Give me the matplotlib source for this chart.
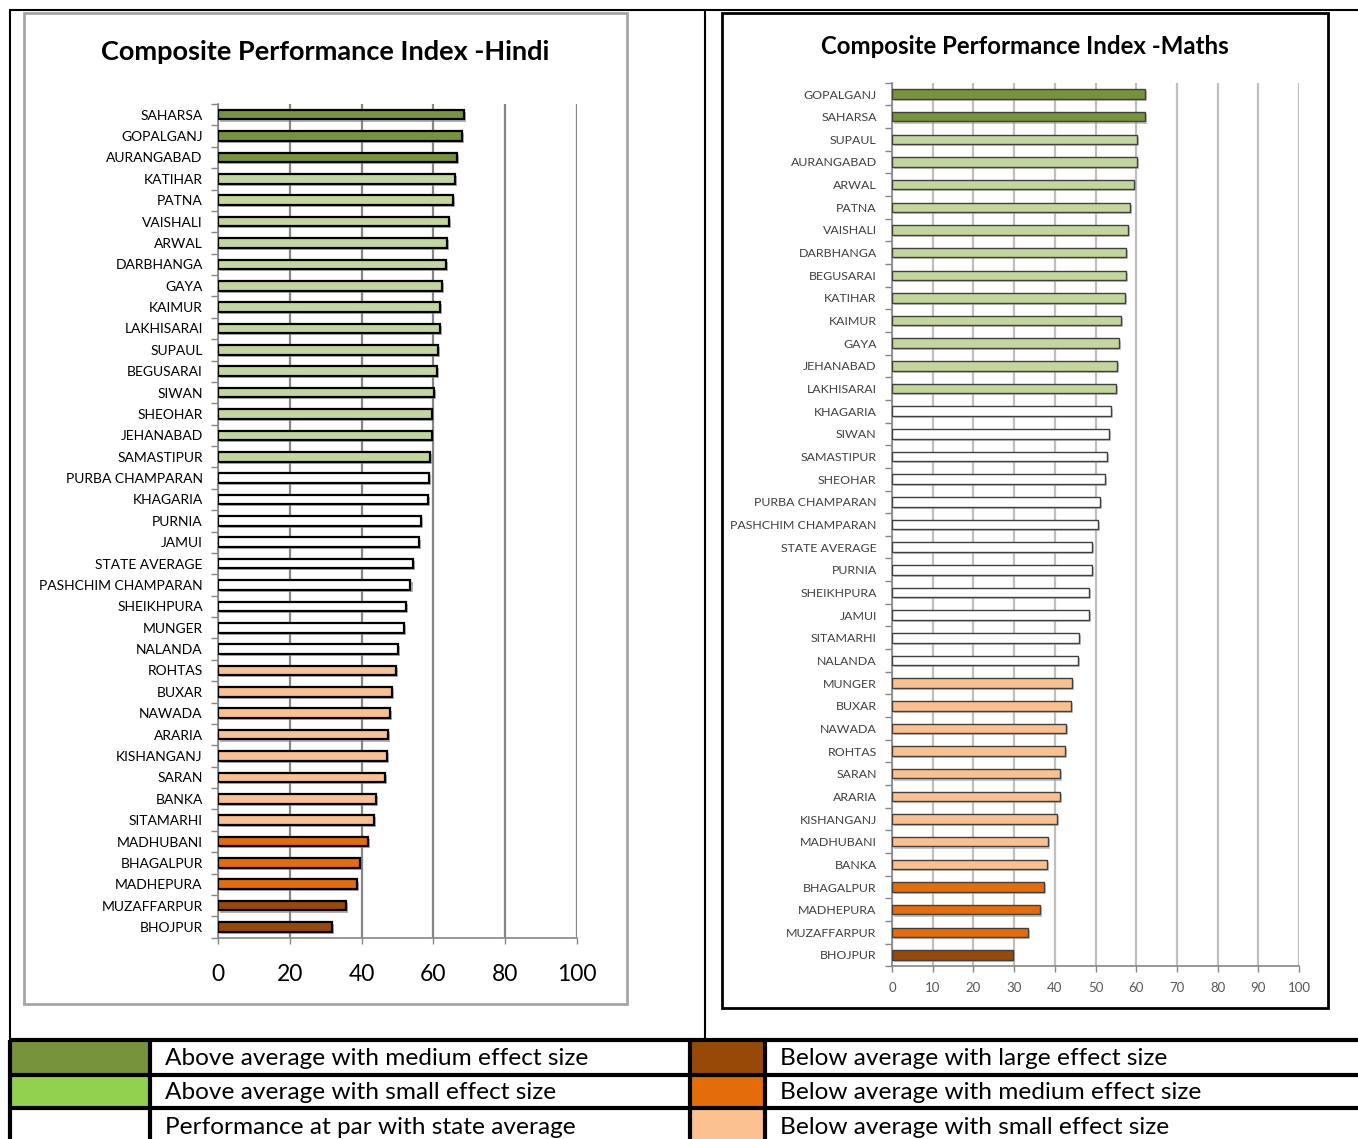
import matplotlib
matplotlib.use("Agg")
import matplotlib.pyplot as plt
import matplotlib.patheffects as pe
from matplotlib.lines import Line2D
from matplotlib.patches import Rectangle
from matplotlib.ticker import FixedLocator, NullFormatter

# ---------------- data ----------------
hindi_districts = ["SAHARSA", "GOPALGANJ", "AURANGABAD", "KATIHAR", "PATNA", "VAISHALI", "ARWAL",
                   "DARBHANGA", "GAYA", "KAIMUR", "LAKHISARAI", "SUPAUL", "BEGUSARAI", "SIWAN",
                   "SHEOHAR", "JEHANABAD", "SAMASTIPUR", "PURBA CHAMPARAN", "KHAGARIA", "PURNIA",
                   "JAMUI", "STATE AVERAGE", "PASHCHIM CHAMPARAN", "SHEIKHPURA", "MUNGER", "NALANDA",
                   "ROHTAS", "BUXAR", "NAWADA", "ARARIA", "KISHANGANJ", "SARAN", "BANKA", "SITAMARHI",
                   "MADHUBANI", "BHAGALPUR", "MADHEPURA", "MUZAFFARPUR", "BHOJPUR"]
hindi_values = [68.4, 67.9, 66.6, 66.1, 65.5, 64.3, 63.9, 63.6, 62.5, 61.9, 61.7, 61.2, 60.9, 60.2,
                59.6, 59.5, 59.1, 58.7, 58.4, 56.5, 55.9, 54.4, 53.6, 52.4, 51.8, 50.2, 49.5, 48.5,
                47.8, 47.4, 47.0, 46.6, 44.1, 43.5, 41.8, 39.5, 38.7, 35.6, 31.7]
hindi_groups = ["AM"] * 3 + ["AS"] * 14 + ["P"] * 9 + ["BS"] * 8 + ["BM"] * 3 + ["BL"] * 2

maths_districts = ["GOPALGANJ", "SAHARSA", "SUPAUL", "AURANGABAD", "ARWAL", "PATNA", "VAISHALI",
                   "DARBHANGA", "BEGUSARAI", "KATIHAR", "KAIMUR", "GAYA", "JEHANABAD", "LAKHISARAI",
                   "KHAGARIA", "SIWAN", "SAMASTIPUR", "SHEOHAR", "PURBA CHAMPARAN",
                   "PASHCHIM CHAMPARAN", "STATE AVERAGE", "PURNIA", "SHEIKHPURA", "JAMUI",
                   "SITAMARHI", "NALANDA", "MUNGER", "BUXAR", "NAWADA", "ROHTAS", "SARAN", "ARARIA",
                   "KISHANGANJ", "MADHUBANI", "BANKA", "BHAGALPUR", "MADHEPURA", "MUZAFFARPUR",
                   "BHOJPUR"]
maths_values = [62.2, 62.2, 60.2, 60.2, 59.4, 58.5, 58.0, 57.4, 57.4, 57.2, 56.3, 55.8, 55.2, 55.0,
                53.7, 53.2, 52.9, 52.3, 51.2, 50.7, 49.1, 49.1, 48.5, 48.4, 46.0, 45.8, 44.3, 44.0,
                42.8, 42.5, 41.3, 41.3, 40.6, 38.3, 38.1, 37.4, 36.4, 33.5, 29.8]
maths_groups = ["AM"] * 2 + ["AS"] * 12 + ["P"] * 12 + ["BS"] * 9 + ["BM"] * 3 + ["BL"] * 1

group_bar_colors = {"AM": "#77933C", "AS": "#C3D69B", "P": "#FFFFFF",
                    "BS": "#FAC090", "BM": "#E46C0A", "BL": "#984807"}

legend_left_labels = ["Above average with medium effect size",
                      "Above average with small effect size",
                      "Performance at par with state average"]
legend_left_colors = ["#77933C", "#92D050", "#FFFFFF"]
legend_right_labels = ["Below average with large effect size",
                       "Below average with medium effect size",
                       "Below average with small effect size"]
legend_right_colors = ["#984807", "#E46C0A", "#FAC090"]

x_ticks_hindi = [0, 20, 40, 60, 80, 100]
x_ticks_maths = [0, 10, 20, 30, 40, 50, 60, 70, 80, 90, 100]

# ---------------- figure ----------------
W, H = 1358, 1139
fig = plt.figure(figsize=(W / 100, H / 100), dpi=100)
FONT = ["Lato", "DejaVu Sans"]


def fx(px):
    return px / W


def fy(py):
    return 1 - py / H


def fig_line(x0, y0, x1, y1, color="black", lw=2.0):
    fig.add_artist(Line2D([fx(x0), fx(x1)], [fy(y0), fy(y1)], transform=fig.transFigure,
                          color=color, lw=lw, solid_capstyle="butt"))


def fig_rect(x0, y0, x1, y1, fc="none", ec="none", lw=0.0, zorder=0):
    fig.add_artist(Rectangle((fx(x0), fy(y1)), fx(x1) - fx(x0), fy(y0) - fy(y1),
                             transform=fig.transFigure, facecolor=fc, edgecolor=ec, lw=lw,
                             zorder=zorder))


# outer page frame
fig_line(9, 10, W, 10, lw=1.5)
fig_line(10, 10, 10, H, lw=1.5)
fig_line(705, 10, 705, 1040, lw=1.5)

# panel boxes
fig_rect(24, 13, 627, 1004, ec="#A6A6A6", lw=2.0)
fig_rect(722, 13, 1328, 1008, ec="#000000", lw=2.0)

# titles
fig.text(fx(325), fy(52), "Composite Performance Index -Hindi", ha="center", va="center",
         fontsize=19.5, fontweight="bold", family=FONT)
fig.text(fx(1025), fy(46), "Composite Performance Index -Maths", ha="center", va="center",
         fontsize=17.3, fontweight="bold", family=FONT)


def draw_chart(ax, districts, values, groups, xticks, edge, edge_lw, grid_color, grid_lw,
               ylab_size, ylab_color, xlab_size, xlab_color, xpad, shadow_color, bar_h):
    n = len(districts)
    pos = list(range(n))
    colors = [group_bar_colors[g] for g in groups]
    bars = ax.barh(pos, values, height=bar_h, color=colors, edgecolor=edge, linewidth=edge_lw,
                   zorder=3)
    for b in bars:
        b.set_path_effects([pe.SimplePatchShadow(offset=(1.5, -1.5), shadow_rgbFace=shadow_color,
                                                 alpha=0.6), pe.Normal()])
    ax.set_ylim(n - 0.5, -0.5)
    ax.set_xlim(0, 100)
    ax.set_yticks(pos)
    ax.set_yticklabels(districts, fontsize=ylab_size, color=ylab_color, family=FONT)
    ax.yaxis.set_minor_locator(FixedLocator([i - 0.5 for i in range(n + 1)]))
    ax.yaxis.set_minor_formatter(NullFormatter())
    ax.tick_params(axis="y", which="major", length=0, pad=11)
    ax.tick_params(axis="y", which="minor", length=5, width=1.0, color="#868686")
    ax.set_xticks(xticks)
    ax.set_xticklabels([str(t) for t in xticks], fontsize=xlab_size, color=xlab_color, family=FONT)
    ax.tick_params(axis="x", which="major", length=4, width=1.0, color="#868686", pad=xpad)
    ax.grid(axis="x", color=grid_color, lw=grid_lw, zorder=0)
    ax.set_axisbelow(True)
    for s in ["top", "right"]:
        ax.spines[s].set_visible(False)
    ax.spines["left"].set_color("#868686")
    ax.spines["left"].set_linewidth(1.2)
    ax.spines["bottom"].set_color("#868686")
    ax.spines["bottom"].set_linewidth(1.2)


ax1 = fig.add_axes([fx(218), fy(937.7), fx(577) - fx(218), fy(104) - fy(937.7)])
draw_chart(ax1, hindi_districts, hindi_values, hindi_groups, x_ticks_hindi,
           edge="#000000", edge_lw=1.6, grid_color="#868686", grid_lw=1.6,
           ylab_size=10, ylab_color="#000000", xlab_size=16.5, xlab_color="#000000", xpad=15,
           shadow_color="#7F7F7F", bar_h=0.45)

ax2 = fig.add_axes([fx(892), fy(966.3), fx(1299) - fx(892), fy(82.7) - fy(966.3)])
draw_chart(ax2, maths_districts, maths_values, maths_groups, x_ticks_maths,
           edge="#404040", edge_lw=1.0, grid_color="#BFBFBF", grid_lw=1.6,
           ylab_size=8.9, ylab_color="#404040", xlab_size=9.5, xlab_color="#595959", xpad=7.5,
           shadow_color="#A0A0A0", bar_h=0.42)

# ---------------- legend table ----------------
row_edges = [1040, 1075, 1108, 1145]
for i in range(3):
    y0, y1 = row_edges[i], row_edges[i + 1]
    fig_rect(10, y0, 150, y1, fc=legend_left_colors[i])
    fig_rect(690, y0, 765, y1, fc=legend_right_colors[i])
    yc = (y0 + y1) / 2 + 1
    fig.text(fx(165), fy(yc), legend_left_labels[i], ha="left", va="center", fontsize=17.6,
             family=FONT)
    fig.text(fx(780), fy(yc), legend_right_labels[i], ha="left", va="center", fontsize=17.6,
             family=FONT)
for y in row_edges[:3]:
    fig_line(9, y, W, y, lw=3.0)
for x in [10, 150, 690, 765]:
    fig_line(x, 1040, x, H, lw=3.0)

fig.savefig("out.png", dpi=100, facecolor="white")
